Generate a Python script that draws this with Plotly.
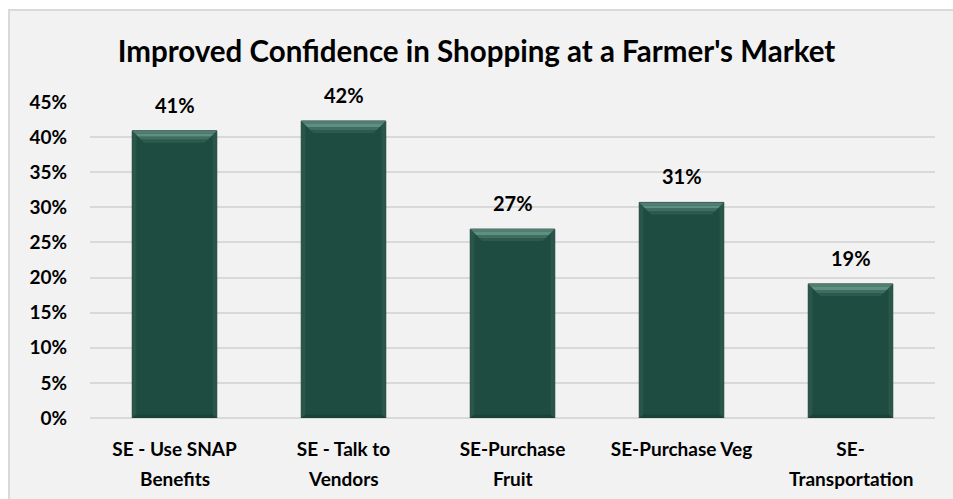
import plotly.graph_objects as go

# Survey results: share of respondents reporting improved self-efficacy (SE)
categories = [
    "SE - Use SNAP<br>Benefits",
    "SE - Talk to<br>Vendors",
    "SE-Purchase<br>Fruit",
    "SE-Purchase Veg",
    "SE-<br>Transportation",
]
values = [0.409, 0.423, 0.269, 0.307, 0.191]
tick_values = [0, 0.05, 0.10, 0.15, 0.20, 0.25, 0.30, 0.35, 0.40, 0.45]

FONT = "Lato"
BAR_W = 0.5
FACE = "#1f4c40"

W, H = 953, 499
L, R, T, B = 90, 18, 102, 81
plot_w = W - L - R
plot_h = H - T - B
y_max = 0.45

x_idx = list(range(len(categories)))
first_lines = [c.split("<br>")[0] for c in categories]
second_lines = [c.split("<br>")[1] if "<br>" in c else "" for c in categories]

fig = go.Figure()

# Main bar faces
fig.add_trace(go.Bar(
    x=x_idx, y=values, width=BAR_W,
    marker=dict(color=FACE, line=dict(color="#2f3f3a", width=1)),
    hoverinfo="skip",
))

# Bevel facets computed from each bar's value and width
bev_px = 12
dx = bev_px / plot_w * len(categories)
dy = bev_px / plot_h * y_max


def facets(kind, frac0=0.0, frac1=1.0):
    xs, ys = [], []
    for i, v in zip(x_idx, values):
        x0, x1 = i - BAR_W / 2, i + BAR_W / 2
        if kind == "top":
            a, b = frac0, frac1
            pts = [(x0 + dx * a, v - dy * a), (x1 - dx * a, v - dy * a),
                   (x1 - dx * b, v - dy * b), (x0 + dx * b, v - dy * b)]
        elif kind == "left":
            pts = [(x0, v), (x0 + dx * 0.35, v - dy * 0.35),
                   (x0 + dx * 0.35, dy * 0.3), (x0, 0)]
        elif kind == "right":
            pts = [(x1, v), (x1 - dx * 0.35, v - dy * 0.35),
                   (x1 - dx * 0.35, dy * 0.3), (x1, 0)]
        else:
            pts = [(x0, 0), (x1, 0), (x1 - dx * 0.35, dy * 0.3),
                   (x0 + dx * 0.35, dy * 0.3)]
        for px, py in pts + [pts[0]]:
            xs.append(px)
            ys.append(py)
        xs.append(None)
        ys.append(None)
    return xs, ys


bevel_layers = [
    (("left",), "#285649"),
    (("right",), "#285649"),
    (("bottom",), "#1a4236"),
    (("top", 0.0, 0.25), "#4e7f71"),
    (("top", 0.25, 0.5), "#5f8f81"),
    (("top", 0.5, 0.75), "#3f6e61"),
    (("top", 0.75, 1.0), "#2c5b4e"),
]
for args, col in bevel_layers:
    fx, fy = facets(*args)
    fig.add_trace(go.Scatter(
        x=fx, y=fy, mode="lines", fill="toself",
        fillcolor=col, line=dict(width=0), hoverinfo="skip",
    ))

# Value labels above bars
for i, v in zip(x_idx, values):
    fig.add_annotation(
        x=i, y=v, xref="x", yref="y", text=f"{v:.0%}",
        showarrow=False, yanchor="bottom", yshift=12,
        font=dict(family=FONT, size=20, color="#000000", weight="bold"),
    )

# Second line of category labels, spaced like the chart's wrapped labels
for i, s in zip(x_idx, second_lines):
    if s:
        fig.add_annotation(
            x=i, y=0, xref="x", yref="paper", text=s,
            showarrow=False, yanchor="middle", yshift=-60,
            font=dict(family=FONT, size=19, color="#000000", weight="bold"),
        )

# Chart area panel with thin border
fig.add_shape(
    type="rect", xref="paper", yref="paper",
    x0=(9 - L) / plot_w, x1=(W + 20 - L) / plot_w,
    y0=-(H + 20 - T - plot_h) / plot_h, y1=(H - 10 - B) / plot_h,
    fillcolor="#f2f2f2", line=dict(color="#d9d9d9", width=2),
    layer="below",
)

fig.update_layout(
    width=W, height=H,
    margin=dict(l=L, r=R, t=T, b=B),
    paper_bgcolor="#ffffff",
    plot_bgcolor="#f2f2f2",
    showlegend=False,
    title=dict(
        text="Improved Confidence in Shopping at a Farmer's Market",
        x=0.5, xanchor="center", xref="container",
        y=1 - 52 / H, yanchor="middle",
        font=dict(family=FONT, size=29.5, color="#000000", weight="bold"),
    ),
    xaxis=dict(
        tickmode="array", tickvals=x_idx, ticktext=first_lines,
        range=[-0.5, len(categories) - 0.5],
        showgrid=False, zeroline=False, showline=False,
        ticks="", ticklabelstandoff=18,
        tickfont=dict(family=FONT, size=19, color="#000000", weight="bold"),
    ),
    yaxis=dict(
        range=[0, y_max], tickvals=tick_values, tickformat=".0%",
        showgrid=True, gridcolor="#d9d9d9", gridwidth=1.5,
        zeroline=True, zerolinecolor="#d9d9d9", zerolinewidth=1.5,
        showline=False, ticks="", ticklabelstandoff=22,
        tickfont=dict(family=FONT, size=19, color="#000000", weight="bold"),
    ),
)

fig.write_html("out.html")
